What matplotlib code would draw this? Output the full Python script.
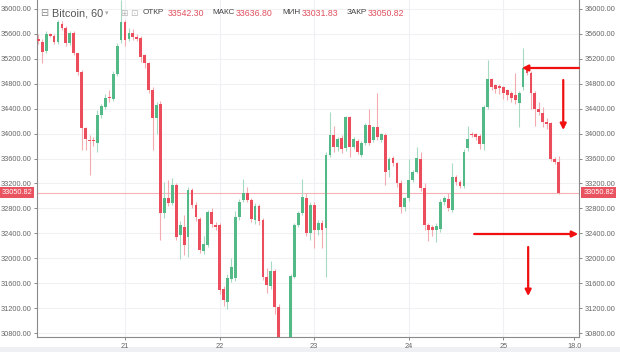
import matplotlib
matplotlib.use("Agg")
import matplotlib.pyplot as plt
import numpy as np
from matplotlib.patches import Rectangle

# hourly Bitcoin candles (day 20 -> 25)
first_hour = 2
opens = [35524, 35465, 35326, 35593, 35567, 35476, 35759, 35695, 35449, 35609,
         35288, 34994, 34085, 33898, 33898, 33855, 34299, 34432, 34582, 34561,
         34957, 35502, 35797, 35513, 35620, 35545, 35529, 35262, 35128, 34700,
         34245, 34475, 32720, 32961, 32881, 33175, 32373, 32507, 32346, 33095,
         32854, 32624, 32121, 32212, 32747, 32533, 32528, 31501, 31303, 31661,
         31677, 32667, 32934, 33052, 32934, 32613, 32838, 32613, 31704, 31554,
         31800, 31223, 30650, 30550, 30650, 31704, 32533, 32731, 32972, 32410,
         32854, 32453, 32571, 32480, 33657, 33978, 33780, 33935, 33764, 34261,
         33791, 33887, 33657, 33855, 34138, 33898, 34101, 33898, 33978, 33416,
         33603, 33523, 33213, 32817, 32961, 33256, 33389, 33587, 33122, 32533,
         32507, 32453, 32464, 32908, 32945, 32774, 33309, 33229, 33159, 33764,
         34000, 33988, 33962, 33833, 34422, 34876, 34780, 34764, 34743, 34700,
         34657, 34620, 34486, 34743, 35050, 34980, 34657, 34390, 34336, 34192,
         34165, 33587, 33542.30]
closes = [35481, 35304, 35593, 35572, 35476, 35797, 35690, 35449, 35609, 35288,
          34994, 34085, 33908, 33876, 33876, 34299, 34443, 34577, 34566, 34957,
          35406, 35797, 35502, 35620, 35556, 35524, 35235, 35128, 34700, 34245,
          34459, 32720, 32961, 32881, 33175, 32335, 32533, 32212, 33095, 32854,
          32667, 32132, 32228, 32747, 32549, 32507, 31490, 31330, 31677, 31854,
          32667, 32908, 33052, 32934, 32624, 32838, 32603, 31704, 31570, 31800,
          31223, 30650, 30550, 30650, 31715, 32533, 32731, 32988, 32410, 32854,
          32453, 32571, 32453, 33657, 33978, 33780, 33908, 33748, 34261, 33791,
          33908, 33710, 33855, 34138, 33855, 34101, 33940, 33988, 33389, 33587,
          33523, 33213, 32827, 32961, 33256, 33389, 33603, 33122, 32533, 32453,
          32453, 32517, 32908, 32961, 32801, 33309, 33229, 33159, 33710, 33908,
          33978, 33951, 33833, 34422, 34876, 34754, 34711, 34727, 34657, 34620,
          34566, 34539, 34657, 35050, 34980, 34657, 34390, 34352, 34192, 34154,
          33587, 33550, 33050.82]
highs = [35600, 35520, 35640, 35620, 35600, 35830, 35800, 35720, 35640, 35650,
         35300, 35020, 34110, 33980, 33950, 34380, 34470, 34640, 34700, 35000,
         35450, 36150, 35830, 35700, 35680, 35600, 35560, 35280, 35150, 34740,
         34500, 34520, 33230, 33250, 33280, 33200, 32600, 32700, 33150, 33120,
         32900, 32660, 32350, 32780, 32800, 32580, 32560, 31560, 31750, 32000,
         32750, 32950, 33266, 33150, 32960, 32880, 32870, 32650, 31850, 31950,
         31830, 31260, 30700, 30700, 31750, 32560, 32760, 33266, 33050, 32900,
         32900, 32620, 32620, 33700, 34352, 34120, 33950, 33970, 34290, 34290,
         33940, 33920, 33880, 34170, 34390, 34130, 34650, 34010, 34010, 33620,
         33640, 33550, 33260, 32990, 33600, 33420, 33780, 33710, 33200, 32560,
         32530, 32560, 32950, 33000, 33050, 33523, 33340, 33260, 33760, 34122,
         34030, 34010, 33990, 34460, 35181, 34900, 34800, 34790, 34770, 34720,
         34680, 34980, 34690, 35369, 35100, 35000, 34690, 34500, 34420, 34250,
         34190, 33620, 33636.80]
lows = [35440, 35130, 35290, 35550, 35440, 35430, 35660, 35410, 35420, 35260,
        34940, 33740, 33740, 33336, 33800, 33710, 34250, 34400, 34500, 34520,
        34930, 35450, 35400, 35480, 35500, 35480, 35150, 35060, 34650, 33737,
        34000, 32290, 32650, 32840, 32850, 32300, 31980, 32050, 32020, 32800,
        32600, 32080, 32060, 32180, 32500, 32450, 31430, 31230, 31180, 31620,
        31640, 32620, 32900, 32900, 32580, 32550, 32540, 31650, 31450, 31500,
        31100, 30600, 30480, 30500, 30600, 31680, 32500, 32700, 32350, 32300,
        32160, 32380, 32160, 31704, 33620, 33700, 33720, 33690, 33720, 33620,
        33760, 33680, 33620, 33820, 33820, 33860, 33900, 33870, 33175, 33300,
        33480, 33150, 32720, 32760, 32920, 33220, 33360, 33080, 32450, 32280,
        32350, 32260, 32420, 32850, 32760, 32740, 33180, 33120, 33120, 33720,
        33940, 33900, 33750, 33740, 34390, 34700, 34650, 34640, 34560, 34540,
        34500, 34480, 34111, 34700, 34940, 34400, 34130, 34300, 34100, 34080,
        33560, 33520, 33031.83]

day_labels = ["21", "22", "23", "24", "25"]
last_price = 33050.82
header = [("ОТКР", "33542.30"), ("МАКС", "33636.80"), ("МИН", "33031.83"), ("ЗАКР", "33050.82")]
y_ticks = np.arange(30800, 36001, 400)

UP, DOWN = "#53b987", "#eb4d5c"
UP_WICK, DOWN_WICK = "#a6dbc2", "#f3aab1"

o = np.array(opens); c = np.array(closes)
h = np.array(highs); l = np.array(lows)
x = first_hour + np.arange(len(o))
up = c >= o

fig = plt.figure(figsize=(6.2, 3.52), dpi=100)

# light strip at the bottom of the screenshot (behind everything)
fig.patches.append(Rectangle((0, 0), 1, 5 / 352, transform=fig.transFigure,
                             fc="#eef0f4", ec="none", zorder=-5))

ax = fig.add_axes([37 / 620, 15 / 352, 542 / 620, 337 / 352])

# grid
for yv in y_ticks:
    ax.axhline(yv, color="#f0f1f3", lw=0.8, zorder=0)
for d in range(1, 6):
    ax.axvline(24 * d, color="#eef0f3", lw=0.8, zorder=0)

# candles
ax.vlines(x, l, h, colors=np.where(up, UP_WICK, DOWN_WICK), lw=0.8, zorder=2)
body = np.maximum(np.abs(c - o), 18)
ax.bar(x, body, bottom=np.minimum(o, c), width=0.72,
       color=np.where(up, UP, DOWN), lw=0, zorder=3)

# last price line + labels
ax.axhline(last_price, color="#f6b0b6", lw=0.8, zorder=1)
tr = ax.get_yaxis_transform()
box = dict(boxstyle="square,pad=0.25", fc="#e9525f", ec="none")
ax.text(1.008, last_price, f"{last_price:.2f}", transform=tr, ha="left", va="center",
        fontsize=5.3, color="white", bbox=box, family="Liberation Sans", clip_on=False)
ax.text(-0.066, last_price, f"{last_price:.2f}", transform=tr, ha="left", va="center",
        fontsize=5.3, color="white", bbox=box, family="Liberation Sans", clip_on=False)

ax.set_xlim(1.67, 139.2)
ax.set_ylim(30736, 36144)
ax.set_yticks(y_ticks)
ax.set_yticklabels([f"{v:.2f}" for v in y_ticks])
ax.set_xticks([24, 48, 72, 96, 120, 138])
ax.set_xticklabels(day_labels + ["18.0"])
ax.tick_params(axis="both", labelsize=5.3, colors="#777", length=2.5, width=0.6,
               labelcolor="#666", pad=1.5)
ax.tick_params(axis="y", right=True, labelright=True)
for lab in ax.get_xticklabels() + ax.get_yticklabels():
    lab.set_family("Liberation Sans")
for side in ["left", "right", "bottom"]:
    ax.spines[side].set_color("#8a8a8a")
    ax.spines[side].set_linewidth(0.8)
ax.spines["top"].set_visible(False)

# red annotation arrows drawn on the screenshot
arrow = dict(arrowstyle="-|>", color="#f01010", lw=1.6, mutation_scale=9, shrinkA=0, shrinkB=0)
ax.annotate("", xy=(124.7, 35053), xytext=(139.2, 35053), arrowprops=arrow, annotation_clip=False)
ax.annotate("", xy=(135.2, 34058), xytext=(135.2, 34860), arrowprops=arrow, annotation_clip=False)
ax.annotate("", xy=(139.0, 32389), xytext=(112.6, 32389), arrowprops=arrow, annotation_clip=False)
ax.annotate("", xy=(126.3, 31393), xytext=(126.3, 32180), arrowprops=arrow, annotation_clip=False)

# header legend
yh = 1 - 13 / 352
fig.text(40 / 620, yh, "⊟", fontsize=7, color="#888", va="center", family="DejaVu Sans")
fig.text(52 / 620, yh, "Bitcoin, 60", fontsize=7.8, color="#555", va="center", family="Liberation Sans")
fig.text(105 / 620, yh, "▾", fontsize=5, color="#aaa", va="center", family="DejaVu Sans")
fig.text(120 / 620, yh, "⊞", fontsize=6.5, color="#bbb", va="center", family="DejaVu Sans")
fig.text(130 / 620, yh, "⊡", fontsize=6.5, color="#bbb", va="center", family="DejaVu Sans")
positions = [(143, 168), (212, 236), (282, 302), (347, 368)]
for (name, val), (px1, px2) in zip(header, positions):
    fig.text(px1 / 620, yh, name, fontsize=5.9, color="#444", va="center", family="Liberation Sans")
    fig.text(px2 / 620, yh, val, fontsize=6.3, color="#e0505e", va="center", family="Liberation Sans")

fig.savefig("out.png", dpi=100)
